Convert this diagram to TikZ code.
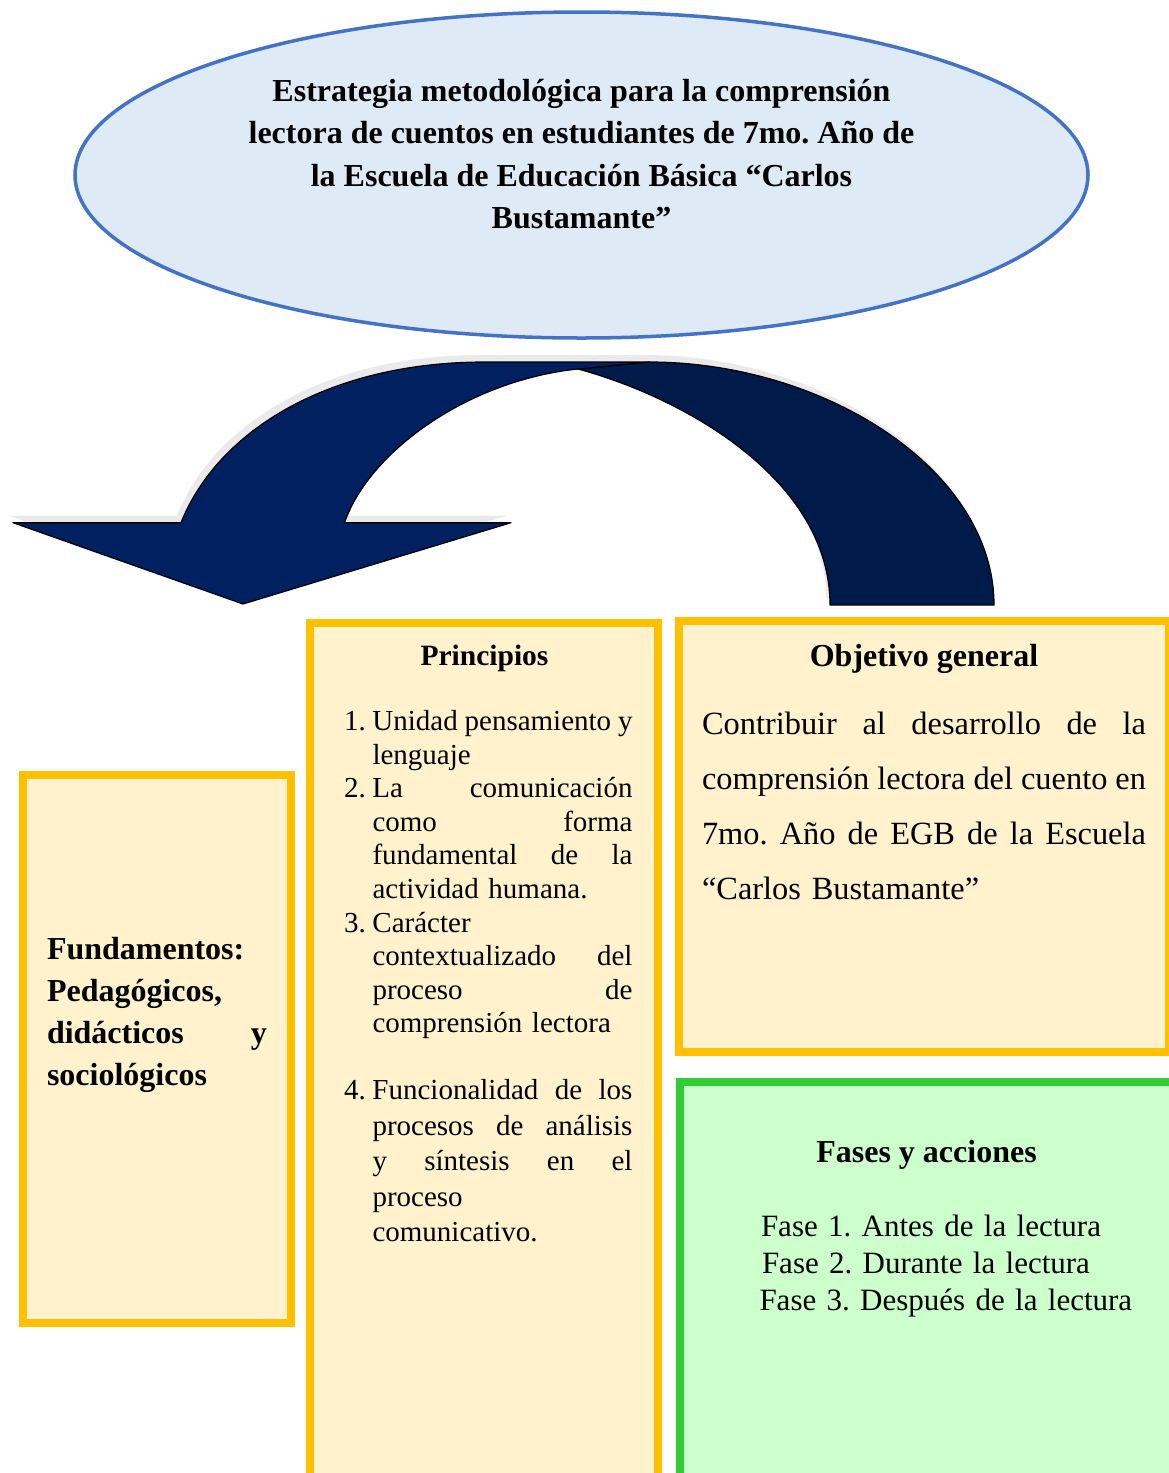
\documentclass[tikz,border=0pt]{standalone}
\usepackage{fontspec}
\setmainfont{Liberation Serif}
\definecolor{ellfill}{HTML}{DEEAF6}
\definecolor{elldraw}{HTML}{4472C4}
\definecolor{navyfront}{HTML}{002060}
\definecolor{navyback}{HTML}{001A4A}
\definecolor{ybord}{HTML}{FFC000}
\definecolor{yfill}{HTML}{FFF2CC}
\definecolor{gbord}{HTML}{33CC33}
\definecolor{gfill}{HTML}{CCFFCC}
\definecolor{shade}{HTML}{EAEAEA}
\newcommand\jline[2]{{\spaceskip=0pt\xspaceskip=0pt\makebox[#1pt][s]{#2}}}
\newcommand\numlab[1]{\makebox[28.5pt][l]{#1}}
\newcommand\indentl{\hspace*{28.5pt}}
\tikzset{
  ybox/.style={draw=ybord, fill=yfill, line width=8pt},
  gbox/.style={draw=gbord, fill=gfill, line width=8pt},
  txt/.style={inner sep=0pt, outer sep=0pt},
  headA/.style={txt, anchor=base, font=\fontsize{32}{38}\selectfont\bfseries},
  headB/.style={txt, anchor=base, font=\fontsize{29.5}{34}\selectfont\bfseries},
  arrfront/.style={fill=navyfront, draw=black, line width=1.2pt, line join=round},
  arrback/.style={fill=navyback, draw=black, line width=1.2pt, line join=round},
  arrshade/.style={fill=shade, draw=none}
}
\begin{document}
\frenchspacing
\begin{tikzpicture}[x=1pt,y=-1pt]
\useasboundingbox (0,0) rectangle (1169,1473);

% title ellipse
\path[draw=elldraw, fill=ellfill, line width=3.5pt] (581.5,175) ellipse [x radius=506.5, y radius=163];
\node[txt, anchor=north, align=center, font=\fontsize{32}{42.5}\selectfont\bfseries] (title) at (581.5,71)
  {\rule{0pt}{30pt}Estrategia metodológica para la comprensión\\
   lectora de cuentos en estudiantes de 7mo. Año de\\
   la Escuela de Educación Básica “Carlos\\
   Bustamante”};

% curved arrow: shadow
\begin{scope}[shift={(-4,-7)}]
  \path[arrshade] (578,369) .. controls (685,398) and (830,480) .. (830,605) -- (994,605)
     .. controls (994,470) and (825,362) .. (649,362) -- cycle;
  \path[arrshade] (344.5,522.7) .. controls (370,450) and (470,380) .. (578,369) -- (649,362) -- (485,362)
     .. controls (330,362) and (218,430) .. (181,522.7) -- (13,522.7) -- (243,604) -- (511,522.7) -- cycle;
\end{scope}
% back band
\path[arrback] (578,369) .. controls (685,398) and (830,480) .. (830,605) -- (994,605)
   .. controls (994,470) and (825,362) .. (649,362) -- cycle;
% front band with head
\path[arrfront] (344.5,522.7) .. controls (370,450) and (470,380) .. (578,369) -- (649,362) -- (485,362)
   .. controls (330,362) and (218,430) .. (181,522.7) -- (13,522.7) -- (243,604) -- (511,522.7) -- cycle;

% boxes
\path[ybox] (22.5,774.5) rectangle (291,1323);
\path[ybox] (310.3,623) rectangle (657.5,1495);
\path[ybox] (678.5,621) rectangle (1169,1051.7);
\path[gbox] (680,1081.5) rectangle (1173,1495);

% Fundamentos
\node[txt, anchor=north west, text width=225pt, align=left, font=\fontsize{32}{42.3}\selectfont\bfseries] (fund) at (47,931)
  {\noindent\rule{0pt}{28pt}Fundamentos:\\
   Pedagógicos,\\
   \jline{220}{didácticos y}\\
   sociológicos};

% Principios
\node[headB] (princ) at (484.5,665) {Principios};
\node[txt, anchor=north west, text width=292pt, align=left, font=\fontsize{29}{33.6}\selectfont] (plist) at (344,705.5)
  {\noindent\rule{0pt}{25pt}\numlab{1.}\jline{260}{Unidad pensamiento y}\\
   \indentl lenguaje\\
   \numlab{2.}\jline{260}{La comunicación}\\
   \indentl\jline{260}{como forma}\\
   \indentl\jline{260}{fundamental de la}\\
   \indentl actividad humana.\\
   \numlab{3.}Carácter\\
   \indentl\jline{260}{contextualizado del}\\
   \indentl\jline{260}{proceso de}\\
   \indentl comprensión lectora};
\node[txt, anchor=north west, text width=292pt, align=left, font=\fontsize{29}{35.5}\selectfont] (plistb) at (344,1074.5)
  {\noindent\rule{0pt}{25pt}\numlab{4.}\jline{260}{Funcionalidad de los}\\
   \indentl\jline{260}{procesos de análisis}\\
   \indentl\jline{260}{y síntesis en el}\\
   \indentl proceso\\
   \indentl comunicativo.};

% Objetivo general
\node[headA] (objh) at (924,666) {Objetivo general};
\node[txt, anchor=north west, text width=450pt, align=left, font=\fontsize{32.4}{55}\selectfont] (objt) at (702,706.5)
  {\noindent\rule{0pt}{28pt}\jline{444}{Contribuir al desarrollo de la}\\
   \jline{444}{comprensión lectora del cuento en}\\
   \jline{444}{7mo. Año de EGB de la Escuela}\\
   “Carlos Bustamante”};

% Fases y acciones
\node[headA] (fasesh) at (926.5,1162) {Fases y acciones};
\node[txt, anchor=north west, text width=400pt, align=left, font=\fontsize{31}{37}\selectfont] (fases) at (761,1208.5)
  {\noindent\rule{0pt}{28pt}Fase 1. Antes de la lectura\\
   \hspace*{1pt}Fase 2. Durante la lectura\\
   \hspace*{-1.5pt}Fase 3. Después de la lectura};
\end{tikzpicture}
\end{document}
